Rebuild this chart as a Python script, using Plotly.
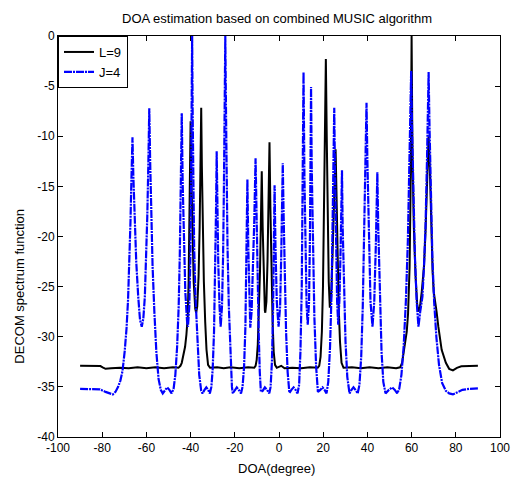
import plotly.graph_objects as go

# ---------------- data ----------------
l9_x = [-90, -85, -80.8, -79.8, -78.5, -76, -72, -68, -64, -60, -56, -52, -48, -45.5, -44.6, -44.0,
        -43.2, -42.5, -41.9, -41.3, -40.9, -40.5, -40.2, -40.0, -39.7, -39.2, -38.6, -37.9, -37.5,
        -37.0, -36.4, -35.9, -35.5, -35.2, -34.9, -34.5, -34.0, -33.4, -32.8, -32.1, -31.2, -28, -25,
        -22, -18, -14, -11.2, -10.6, -10.1, -9.6, -9.1, -8.6, -8.2, -7.8, -7.4, -6.9, -6.4, -6.2,
        -5.7, -5.2, -4.7, -4.3, -3.9, -3.4, -2.9, -2.4, -1.8, -1.0, 1.0, 2.5, 6, 10, 14, 17.5, 18.2,
        18.8, 19.4, 19.9, 20.4, 20.8, 21.2, 21.6, 22.0, 22.5, 23.0, 23.6, 24.2, 24.8, 25.3, 25.6,
        26.0, 26.5, 27.0, 27.6, 28.3, 29.2, 33, 37, 41, 45, 49, 53, 54.8, 55.7, 56.9, 57.8, 58.4,
        59.1, 59.6, 60.0, 60.4, 61.0, 61.8, 62.5, 63.1, 63.8, 64.6, 65.6, 66.3, 67.0, 67.7, 68.3,
        68.9, 69.5, 70.0, 70.6, 71.3, 72.1, 73.6, 75.5, 77, 78.7, 80.5, 82.5, 86, 90]
l9_y = [-32.9, -32.9, -32.92, -33.05, -33.2, -33.15, -33.1, -33.15, -33.05, -33.15, -33.05, -33.15,
        -33.05, -33.1, -32.9, -32.6, -31.8, -31.0, -29.8, -28.0, -24.5, -17.0, -12.0, -8.5, -13.5,
        -19.5, -24.5, -27.2, -27.6, -27.0, -24.0, -19.0, -13.0, -7.15, -13.0, -19.0, -24.5, -28.5,
        -31.3, -32.8, -33.1, -33.05, -33.15, -33.05, -33.15, -33.05, -33.1, -32.9, -32.3, -30.8,
        -28.0, -23.5, -18.5, -13.5, -19.0, -24.5, -27.4, -27.6, -26.5, -22.5, -17.0, -10.6, -17.0,
        -23.5, -28.5, -31.5, -32.8, -33.1, -32.9, -33.15, -33.1, -33.15, -33.05, -33.1, -32.9, -32.0,
        -29.5, -25.0, -17.0, -10.0, -2.3, -10.0, -18.5, -24.5, -27.1, -26.0, -22.0, -17.0, -13.0,
        -11.3, -15.5, -22.0, -27.0, -30.5, -32.6, -33.1, -33.05, -33.15, -33.05, -33.15, -33.05,
        -33.15, -33.05, -32.6, -31.0, -29.5, -27.7, -23.0, -14.0, 0.0, -12.0, -19.0, -24.0, -26.7,
        -27.5, -27.0, -25.5, -23.0, -19.5, -13.5, -10.0, -13.5, -19.5, -23.5, -25.5, -26.3, -27.5,
        -29.0, -31.3, -32.6, -33.2, -33.35, -33.1, -32.95, -32.92, -32.9]

j4_x = [-90, -85, -81, -78.5, -76.5, -75.2, -74, -72.8, -71.8, -70.8, -69.8, -69.0, -68.3, -67.7,
        -67.2, -66.8, -66.3, -65.9, -65.4, -64.6, -63.7, -62.9, -62.1, -61.4, -60.7, -60.1, -59.6,
        -59.1, -58.7, -58.3, -57.8, -57.2, -56.4, -55.5, -54.5, -53.5, -52.6, -51.6, -50.6, -49.6,
        -48.6, -47.7, -46.9, -46.1, -45.4, -44.9, -44.5, -44.0, -43.6, -43.1, -42.4, -41.6, -41.2,
        -40.6, -40.1, -39.8, -39.5, -39.3, -39.1, -38.8, -38.4, -37.8, -37.0, -36.1, -35.2, -34.6,
        -33.7, -32.9, -32.1, -31.3, -30.6, -30.0, -29.4, -28.9, -28.5, -28.2, -27.9, -27.5, -26.9,
        -26.4, -25.8, -25.3, -24.9, -24.6, -24.3, -24.0, -23.7, -23.3, -22.7, -22.0, -21.3, -20.9,
        -20.0, -19.1, -18.2, -17.2, -16.5, -15.8, -15.2, -14.8, -14.3, -13.9, -13.5, -13.0, -12.4,
        -11.8, -11.2, -10.6, -10.2, -9.7, -9.2, -8.7, -8.2, -7.4, -6.4, -5.4, -4.4, -3.8, -3.2,
        -2.7, -2.3, -2.0, -1.6, -1.0, -0.2, 0.5, 1.0, 1.4, 1.7, 2.1, 2.6, 3.2, 3.9, 4.7, 5.6, 6.6,
        7.5, 8.4, 9.1, 9.7, 10.3, 10.7, 11.1, 11.5, 12.0, 12.5, 13.0, 13.6, 14.0, 14.3, 14.5, 14.8,
        15.3, 16.0, 16.8, 17.6, 18.7, 19.7, 20.6, 21.5, 22.3, 23.1, 23.8, 24.4, 24.8, 25.0, 25.3,
        25.8, 26.3, 26.8, 27.4, 27.9, 28.2, 28.5, 28.8, 29.4, 30.1, 30.9, 31.9, 32.8, 33.7, 34.6,
        35.6, 36.4, 37.2, 37.9, 38.6, 39.2, 39.6, 40.0, 40.6, 41.4, 42.3, 43.1, 43.8, 44.2, 44.5,
        44.9, 45.6, 46.4, 47.2, 48.2, 49.7, 51.2, 52.4, 53.5, 54.4, 55.4, 56.4, 57.4, 58.3, 59.0,
        59.5, 59.8, 60.2, 60.8, 61.5, 62.3, 63.1, 63.9, 64.9, 65.6, 66.3, 67.0, 67.4, 67.7, 68.1,
        68.7, 69.4, 70.2, 71.2, 72.4, 73.8, 75.5, 77.0, 78.7, 80.5, 83, 86, 90]
j4_y = [-35.2, -35.2, -35.25, -35.5, -35.7, -35.75, -35.5, -35.0, -34.4, -33.4, -31.4, -29.2, -26.3,
        -23.0, -18.5, -14.5, -10.1, -14.0, -18.0, -22.5, -26.0, -28.3, -29.0, -28.2, -26.0, -22.5,
        -18.0, -12.5, -7.2, -12.5, -18.0, -23.0, -27.5, -31.5, -34.2, -35.3, -35.65, -35.3, -35.05,
        -35.3, -35.65, -35.2, -33.8, -31.0, -27.0, -22.0, -15.5, -7.7, -14.5, -20.5, -25.5, -28.5,
        -29.0, -27.0, -22.0, -15.0, -7.0, 0.0, -7.0, -15.0, -21.0, -26.0, -30.5, -33.8, -35.4,
        -35.65, -35.3, -35.05, -35.3, -35.65, -35.0, -33.2, -29.5, -24.0, -17.5, -11.5, -17.0,
        -22.5, -27.0, -29.0, -27.0, -22.0, -14.5, -7.0, 0.0, -7.0, -14.5, -21.0, -27.0, -32.0,
        -35.0, -35.65, -35.3, -35.05, -35.3, -35.65, -35.0, -33.0, -29.0, -23.5, -14.3, -21.0,
        -26.5, -29.1, -27.5, -24.0, -18.5, -12.2, -18.5, -24.5, -29.5, -33.5, -35.5, -35.4, -35.05,
        -35.3, -35.65, -35.0, -32.5, -27.5, -21.0, -14.9, -21.0, -26.5, -29.0, -27.0, -22.0, -17.0,
        -12.7, -18.0, -24.0, -29.5, -33.5, -35.6, -35.3, -35.05, -35.3, -35.65, -34.8, -31.5,
        -25.0, -17.0, -3.6, -14.0, -22.0, -27.0, -28.8, -26.5, -20.0, -12.0, -5.1, -13.0, -21.0,
        -28.0, -33.0, -35.5, -35.3, -35.05, -35.3, -35.65, -34.5, -31.0, -25.5, -18.0, -11.5,
        -7.15, -13.0, -21.0, -26.5, -28.8, -26.0, -21.0, -17.5, -13.4, -19.0, -25.5, -30.5, -34.0,
        -35.65, -35.3, -35.05, -35.3, -35.65, -34.8, -32.0, -27.0, -20.0, -12.5, -6.65, -12.5,
        -20.0, -26.5, -29.0, -26.5, -21.0, -17.0, -13.6, -19.0, -26.0, -31.5, -34.5, -35.65,
        -35.3, -35.05, -35.3, -35.65, -35.2, -33.8, -31.0, -26.5, -20.5, -13.0, -8.0, -3.5, -9.0,
        -16.0, -22.0, -26.5, -29.0, -27.5, -26.0, -23.0, -19.0, -12.0, -8.0, -3.6, -9.0, -16.0,
        -22.0, -26.5, -30.0, -32.8, -34.6, -35.4, -35.65, -35.75, -35.55, -35.3, -35.2, -35.15]

x_ticks = [-100, -80, -60, -40, -20, 0, 20, 40, 60, 80, 100]
x_tick_text = ["-100", "-80", "-60", "-40", "-20", "0", "20", "40", "60", "80", "100"]
y_ticks = [-40, -35, -30, -25, -20, -15, -10, -5, 0]
y_tick_text = ["-40", "-35", "-30", "-25", "-20", "-15", "-10", "-5", "0"]
series_names = ["L=9", "J=4"]
title_text = "DOA estimation based on combined MUSIC algorithm"
x_label = "DOA(degree)"
y_label = "DECOM spectrum function"

FONT = "Liberation Sans, Arial, sans-serif"

fig = go.Figure()
fig.add_trace(go.Scatter(x=l9_x, y=l9_y, mode="lines", name=series_names[0],
                         line=dict(color="black", width=2)))
fig.add_trace(go.Scatter(x=j4_x, y=j4_y, mode="lines", name=series_names[1],
                         line=dict(color="#0000ff", width=2.2, dash="8px,1px,2px,1px")))

axis_common = dict(showgrid=False, zeroline=False, showline=True, linecolor="black", linewidth=1,
                   mirror="ticks", ticks="inside", ticklen=5, tickcolor="black",
                   tickfont=dict(family=FONT, size=12, color="black"))

fig.update_layout(
    width=522, height=479,
    margin=dict(l=58, r=16, t=36, b=42, pad=0),
    paper_bgcolor="white", plot_bgcolor="white",
    font=dict(family=FONT, size=12, color="black"),
    showlegend=True,
    legend=dict(x=0, y=1, xanchor="left", yanchor="top", bgcolor="white",
                bordercolor="black", borderwidth=1, font=dict(family=FONT, size=13),
                tracegroupgap=0, itemwidth=30),
    annotations=[
        dict(text=title_text, xref="paper", yref="paper", x=0.495, y=1, yshift=18,
             showarrow=False, font=dict(family=FONT, size=13), xanchor="center", yanchor="middle"),
        dict(text=x_label, xref="paper", yref="paper", x=0.494, y=0, yshift=-31,
             showarrow=False, font=dict(family=FONT, size=13), xanchor="center", yanchor="middle"),
        dict(text=y_label, xref="paper", yref="paper", x=0, xshift=-38, y=0.375,
             textangle=-90, showarrow=False, font=dict(family=FONT, size=13),
             xanchor="center", yanchor="middle"),
    ],
)
fig.update_xaxes(range=[-100, 100], tickvals=x_ticks, ticktext=x_tick_text, **axis_common)
fig.update_yaxes(range=[-40, 0], tickvals=y_ticks, ticktext=y_tick_text, **axis_common)

fig.write_html("out.html")
